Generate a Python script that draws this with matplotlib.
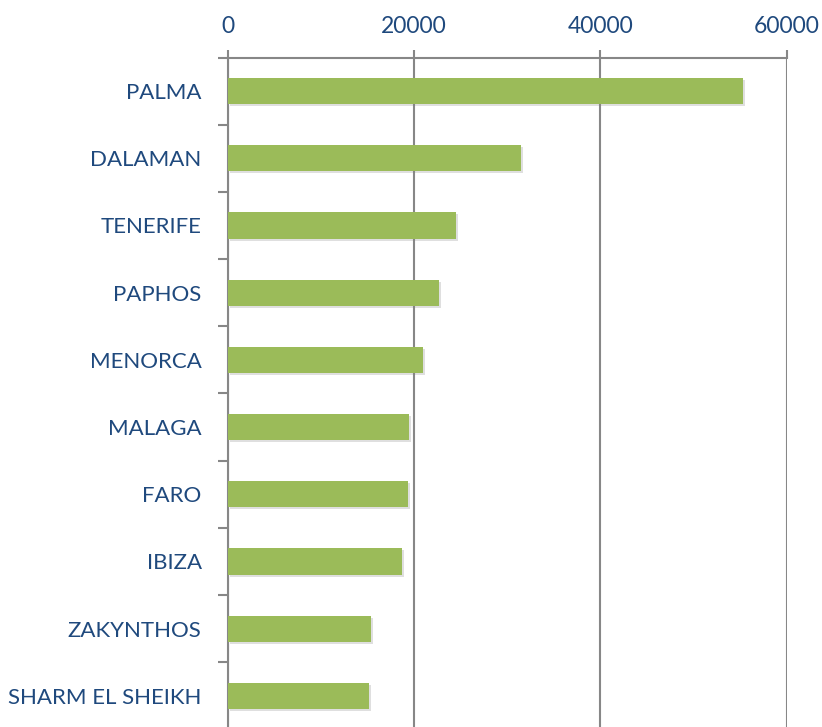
import numpy as np
import matplotlib
matplotlib.use('Agg')
import matplotlib.pyplot as plt
import matplotlib.patheffects as pe

# data
airports = ['PALMA', 'DALAMAN', 'TENERIFE', 'PAPHOS', 'MENORCA',
            'MALAGA', 'FARO', 'IBIZA', 'ZAKYNTHOS', 'SHARM EL SHEIKH']
passengers = [55300, 31500, 24500, 22700, 20900,
              19400, 19300, 18700, 15400, 15150]
xticks = [0, 20000, 40000, 60000]

label_col = '#1F497D'
grid_col = '#878787'
bar_col = '#9BBB59'

plt.rcParams['font.family'] = ['Lato', 'DejaVu Sans']

fig = plt.figure(figsize=(8.22, 7.27), dpi=100)
ax = fig.add_axes([0.2774, -0.0034, 0.6796, 0.9243])

pos = np.arange(len(airports))
bars = ax.barh(pos, passengers, height=0.39, color=bar_col, zorder=3)
for b in bars:
    b.set_path_effects([pe.SimplePatchShadow(offset=(1.5, -1.5), shadow_rgbFace='#808080', alpha=0.25),
                        pe.Normal()])

ax.set_ylim(len(airports) - 0.5, -0.5)
ax.set_xlim(0, 60000)

# x axis on top
ax.xaxis.tick_top()
ax.set_xticks(xticks)
ax.set_xticklabels([str(t) for t in xticks])
ax.tick_params(axis='x', which='major', length=6, width=1.5, color=grid_col,
               labelcolor=label_col, labelsize=16.5, pad=9)
ax.grid(axis='x', color=grid_col, linewidth=1.5, zorder=0)

# category labels, ticks at category boundaries
ax.set_yticks(pos)
ax.set_yticklabels(airports)
ax.set_yticks(np.arange(-0.5, len(airports), 1), minor=True)
ax.tick_params(axis='y', which='major', length=0, labelcolor=label_col,
               labelsize=16, pad=19)
ax.tick_params(axis='y', which='minor', length=7, width=1.5, color=grid_col)

for s in ['right', 'bottom']:
    ax.spines[s].set_visible(False)
for s in ['top', 'left']:
    ax.spines[s].set_color(grid_col)
    ax.spines[s].set_linewidth(1.5)

plt.savefig('out.png', dpi=100)
